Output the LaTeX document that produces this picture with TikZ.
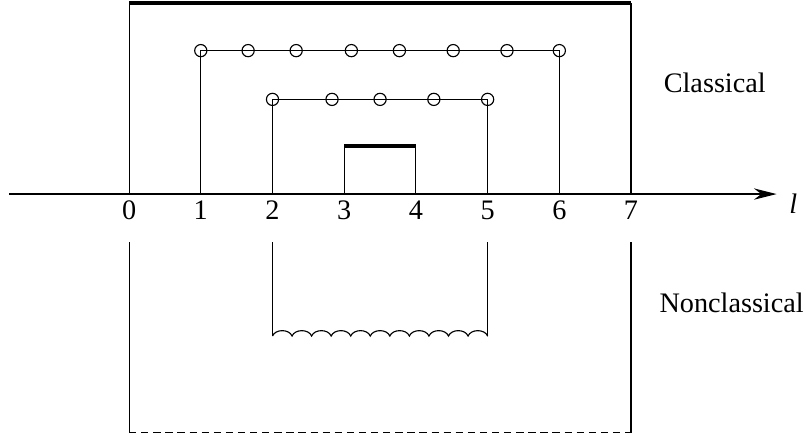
\documentclass[tikz,border=0pt]{standalone}
\usepackage{fontspec}
\setmainfont{Liberation Serif}
\usetikzlibrary{arrows.meta}

\begin{document}
\begin{tikzpicture}[
    every node/.style={font=\fontsize{11.2}{13}\selectfont},
    wire/.style={line width=0.45pt, color=black},
    bar/.style={line width=1.5pt, color=black},
    ring/.style={circle, draw, line width=0.45pt, inner sep=0pt, minimum size=0.17cm},
    numlabel/.style={anchor=base, inner sep=0pt},
    sidelabel/.style={anchor=base west, inner sep=0pt},
    axisline/.style={-{Stealth[length=9pt, width=4.5pt]}, line width=0.5pt},
    dashline/.style={line width=0.45pt, dash pattern=on 2.9pt off 1.9pt}
  ]
    \useasboundingbox (-1.8,-3.39) rectangle (9.44,2.706);

    \foreach \i in {0,...,7} {
      \coordinate (x\i) at (\i,0);
      \node[numlabel] (t\i) at (\i,-0.35) {\i};
    }
    \coordinate (lstart) at (-1.67,0);
    \coordinate (lend) at (9.03,0);
    \node[sidelabel] (lvar) at (9.2,-0.265) {\textit{l}};
    \draw[axisline] (lstart) -- (lend);

    \node[sidelabel] (classical) at (7.45,1.42) {Classical};
    \node[sidelabel] (nonclassical) at (7.39,-1.65) {Nonclassical};

    % classical side
    \coordinate (top0) at (0,2.66);
    \coordinate (top7) at (7,2.66);
    \draw[wire] (x0) -- (top0);
    \draw[wire] (x7) -- (top7);
    \draw[bar] (top0) -- (top7);

    \foreach \x [count=\k] in {1,1.66,2.33,3.1,3.77,4.52,5.27,6}
      \node[ring] (a\k) at (\x,2) {};
    \draw[wire] (x1) -- (a1.center) -- (a8.center) -- (x6);

    \foreach \x [count=\k] in {2,2.83,3.5,4.25,5}
      \node[ring] (b\k) at (\x,1.32) {};
    \draw[wire] (x2) -- (b1.center) -- (b5.center) -- (x5);

    \coordinate (m3) at (3,0.67);
    \coordinate (m4) at (4,0.67);
    \draw[wire] (x3) -- (m3);
    \draw[wire] (x4) -- (m4);
    \draw[bar] (m3) -- (m4);

    % nonclassical side
    \coordinate (u0) at (0,-0.67);
    \coordinate (d0) at (0,-3.33);
    \coordinate (u7) at (7,-0.67);
    \coordinate (d7) at (7,-3.33);
    \draw[wire] (u0) -- (d0);
    \draw[wire] (u7) -- (d7);
    \draw[dashline] (d0) -- (d7);

    \coordinate (u2) at (2,-0.67);
    \coordinate (w2) at (2,-1.98);
    \coordinate (u5) at (5,-0.67);
    \coordinate (w5) at (5,-1.98);
    \draw[wire] (u2) -- (w2);
    \draw[wire] (u5) -- (w5);
    \draw[wire] (w2) \foreach \k in {1,...,11} {
      .. controls +(0.04,0.1) and +(-0.04,0.1) .. ++(0.2727,0)
    } -- (w5);
\end{tikzpicture}
\end{document}
